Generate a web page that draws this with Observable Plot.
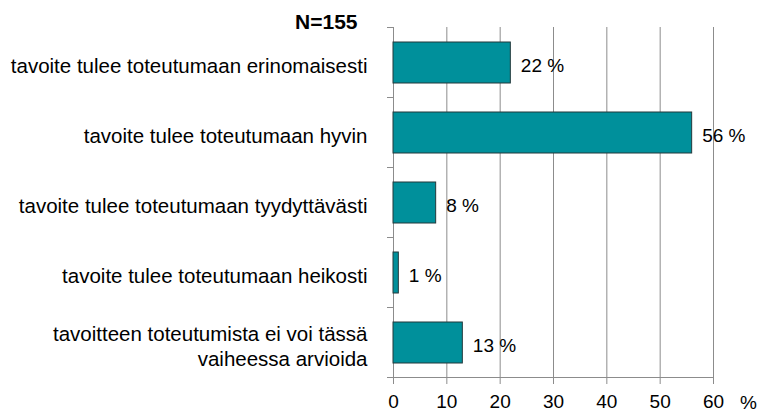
<!DOCTYPE html>
<html>
<head>
<meta charset="utf-8">
<script src="https://cdn.jsdelivr.net/npm/d3@7"></script>
<script src="https://cdn.jsdelivr.net/npm/@observablehq/plot@0.6"></script>
<style>
  html, body { margin: 0; padding: 0; background: #fff; }
  #chart { width: 760px; height: 412px; }
</style>
</head>
<body>
<div id="chart"></div>
<script>
const categories = [
  "tavoite tulee toteutumaan erinomaisesti",
  "tavoite tulee toteutumaan hyvin",
  "tavoite tulee toteutumaan tyydyttävästi",
  "tavoite tulee toteutumaan heikosti",
  "tavoitteen toteutumista ei voi tässä\nvaiheessa arvioida"
];
const values = [22, 56, 8, 1, 13];
const xTicks = [0, 10, 20, 30, 40, 50, 60];
const sampleLabel = "N=155";
const unitLabel = "%";

const data = categories.map((c, i) => ({category: c, value: values[i]}));

const gridColor = "#8c8c8c";

function bandBoundaryTicks(index, scales, values, dimensions) {
  const y = scales.y, x = scales.x;
  const step = y.step ? y.step() : (y(categories[1]) - y(categories[0]));
  const bw = y.bandwidth ? y.bandwidth() : 0;
  const off = (step - bw) / 2;
  const bounds = categories.map(c => y(c) - off);
  bounds.push(y(categories[categories.length - 1]) - off + step);
  const g = d3.create("svg:g").attr("stroke", gridColor).attr("stroke-width", 1);
  const x0 = x(xTicks[0]);
  for (const b of bounds) {
    g.append("line").attr("x1", x0 - 6).attr("x2", x0).attr("y1", b).attr("y2", b);
  }
  const last = bounds[bounds.length - 1];
  g.append("line").attr("x1", x0 - 6).attr("x2", x(xTicks[xTicks.length - 1]))
    .attr("y1", last).attr("y2", last);
  return g.node();
}

const chart = Plot.plot({
  width: 760,
  height: 412,
  marginTop: 27,
  marginBottom: 33,
  marginLeft: 393,
  marginRight: 47,
  style: {fontFamily: "'Liberation Sans', Arial, sans-serif", color: "#000", background: "#fff"},
  x: {domain: [0, 60], ticks: xTicks},
  y: {domain: categories, paddingInner: 0.41, paddingOuter: 0.205},
  marks: [
    Plot.gridX(xTicks, {stroke: gridColor, strokeOpacity: 1, strokeWidth: 1}),
    Plot.axisX(xTicks, {tickSize: 5, stroke: gridColor, strokeOpacity: 1, tickPadding: 10, fontSize: 19, fill: "#000", label: null}),
    Plot.axisY({tickSize: 0, tickPadding: 26, fontSize: 20.5, fill: "#000", label: null, lineHeight: 1.22, dy: 2}),
    bandBoundaryTicks,
    Plot.barX(data, {x: "value", y: "category", fill: "#00909b", stroke: "#23393b", strokeWidth: 1}),
    Plot.text(data, {x: "value", y: "category", text: d => `${d.value} %`, dx: 10, dy: 3, textAnchor: "start", fontSize: 19, fill: "#000"}),
    Plot.text([sampleLabel], {frameAnchor: "top-left", text: d => d, textAnchor: "end", dx: -36, dy: -5, lineAnchor: "middle", fontSize: 21, fontWeight: "bold", fill: "#000"}),
    Plot.text([unitLabel], {frameAnchor: "bottom-right", text: d => d, textAnchor: "middle", dx: 35, dy: 23, lineAnchor: "middle", fontSize: 19, fill: "#000"})
  ]
});
document.getElementById("chart").appendChild(chart);
</script>
</body>
</html>
